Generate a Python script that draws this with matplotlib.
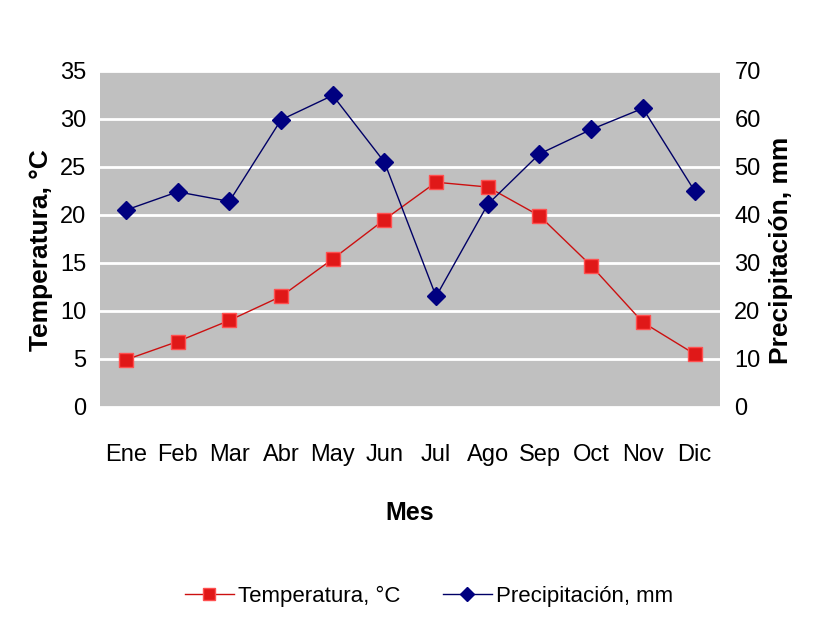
import matplotlib
matplotlib.use('Agg')
import matplotlib.pyplot as plt
import numpy as np

meses = ["Ene", "Feb", "Mar", "Abr", "May", "Jun", "Jul", "Ago", "Sep", "Oct", "Nov", "Dic"]
temperatura = [4.9, 6.8, 9.0, 11.5, 15.4, 19.5, 23.4, 22.9, 19.9, 14.7, 8.8, 5.5]
precipitacion = [41, 44.8, 42.8, 59.8, 64.9, 51, 23, 42.2, 52.7, 57.8, 62.2, 45]

plt.rcParams['font.family'] = ['Liberation Sans', 'DejaVu Sans']

fig = plt.figure(figsize=(8.14, 6.22), dpi=100)
ax = fig.add_axes([0.123, 0.346, 0.762, 0.54])
ax.set_facecolor("#c0c0c0")
x = np.arange(len(meses))

ax.set_ylim(0, 35)
ax.set_yticks(np.arange(0, 36, 5))
ax.yaxis.grid(True, color="white", linewidth=2)
ax.set_axisbelow(True)
ax.set_xlim(-0.5, 11.5)
ax.set_xticks(x)
ax.set_xticklabels(meses)
for s in ax.spines.values():
    s.set_visible(False)
ax.tick_params(length=0, labelsize=17, pad=10)
ax.tick_params(axis='x', pad=27)

ax2 = ax.twinx()
ax2.set_ylim(0, 70)
ax2.set_yticks(np.arange(0, 71, 10))
for s in ax2.spines.values():
    s.set_visible(False)
ax2.tick_params(length=0, labelsize=17, pad=10)

l1, = ax.plot(x, temperatura, color="#cc1010", linewidth=1, marker="s", markersize=10,
              mfc="#e01818", mec="#ff5050", label="Temperatura, °C", zorder=3)
l2, = ax2.plot(x, precipitacion, color="#000066", linewidth=1, marker="D", markersize=9,
               mfc="#000080", mec="#000080", label="Precipitación, mm", zorder=3)

# titulos de los ejes
fig.text(41 / 814, 1 - 250 / 622, "Temperatura, °C", rotation=90, ha="center", va="center",
         fontsize=19, fontweight="bold")
fig.text(781 / 814, 1 - 250 / 622, "Precipitación, mm", rotation=90, ha="center", va="center",
         fontsize=19, fontweight="bold")
fig.text(410 / 814, 1 - 513 / 622, "Mes", ha="center", va="center", fontsize=18, fontweight="bold")

fig.legend(handles=[l1, l2], loc="center", bbox_to_anchor=(0.527, 1 - 596 / 622), ncol=2, frameon=False,
           fontsize=16, handlelength=2.2, markerscale=0.8, columnspacing=1.9, handletextpad=0.2)

fig.savefig("out.png", dpi=100)
